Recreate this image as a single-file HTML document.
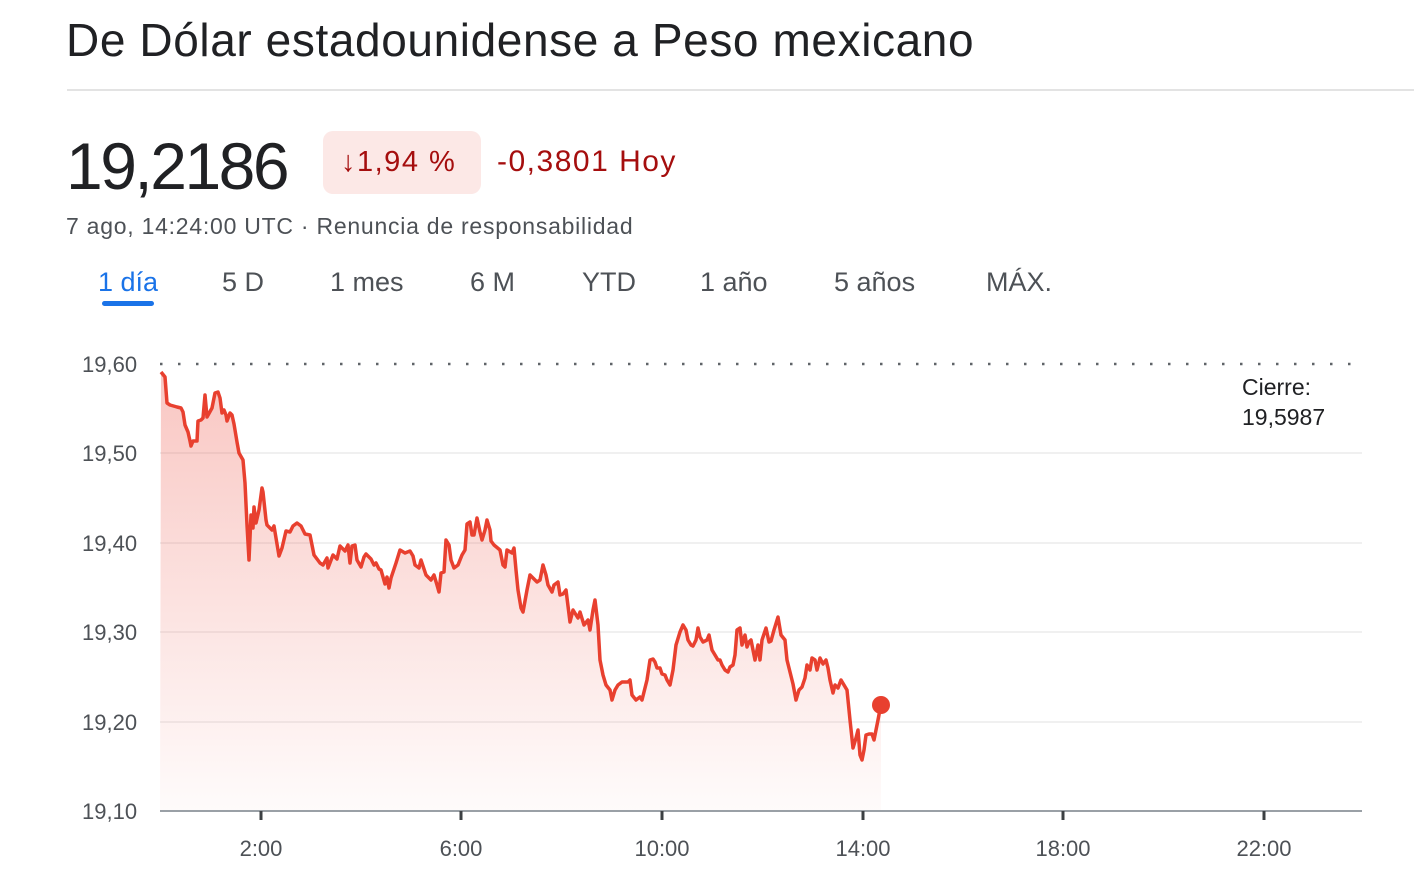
<!DOCTYPE html>
<html><head><meta charset="utf-8"><style>
body{margin:0;width:1414px;height:888px;background:#fff;font-family:"Liberation Sans",Arial,sans-serif;overflow:hidden;position:relative;color:#202124}
.a{position:absolute;white-space:nowrap}
</style></head><body>
<div class="a" style="left:66px;top:13px;font-size:46px;color:#202124;letter-spacing:0.6px">De Dólar estadounidense a Peso mexicano</div>
<div class="a" style="left:67px;top:89px;width:1347px;height:2px;background:#e3e3e3"></div>
<div class="a" style="left:66px;top:128px;font-size:66px;color:#202124;letter-spacing:-2.5px">19,2186</div>
<div class="a" style="left:323px;top:131px;width:158px;height:63px;background:#fce8e6;border-radius:10px"></div>
<div class="a" style="left:341px;top:146px;font-size:29px;color:#a50e0e;letter-spacing:1.5px">↓1,94 %</div>
<div class="a" style="left:497px;top:145px;font-size:30px;color:#a50e0e;letter-spacing:1.5px">-0,3801 Hoy</div>
<div class="a" style="left:66px;top:213px;font-size:23px;color:#4d5156;letter-spacing:0.75px">7 ago, 14:24:00 UTC · Renuncia de responsabilidad</div>
<div class="a" style="left:98px;top:267px;font-size:27px;color:#1a73e8">1 día</div>
<div class="a" style="left:102px;top:301px;width:52px;height:5px;background:#1a73e8;border-radius:3px"></div>
<div class="a" style="left:222px;top:267px;font-size:27px;color:#4d5156">5 D</div>
<div class="a" style="left:330px;top:267px;font-size:27px;color:#4d5156">1 mes</div>
<div class="a" style="left:470px;top:267px;font-size:27px;color:#4d5156">6 M</div>
<div class="a" style="left:582px;top:267px;font-size:27px;color:#4d5156">YTD</div>
<div class="a" style="left:700px;top:267px;font-size:27px;color:#4d5156">1 año</div>
<div class="a" style="left:834px;top:267px;font-size:27px;color:#4d5156">5 años</div>
<div class="a" style="left:986px;top:267px;font-size:27px;color:#4d5156">MÁX.</div>
<svg class="a" style="left:0;top:0" width="1414" height="888">
<defs><linearGradient id="g" x1="0" y1="0" x2="0" y2="1"><stop offset="0" stop-color="#ea4335" stop-opacity="0.3"/><stop offset="1" stop-color="#ea4335" stop-opacity="0.02"/></linearGradient></defs>
<g stroke="#ececec" stroke-width="1.5">
<line x1="160" y1="453" x2="1362" y2="453"/><line x1="160" y1="543" x2="1362" y2="543"/><line x1="160" y1="632" x2="1362" y2="632"/><line x1="160" y1="722" x2="1362" y2="722"/>
</g>
<line x1="160" y1="364" x2="1355" y2="364" stroke="#5f6368" stroke-width="2.5" stroke-dasharray="2.5 15.5"/>
<g font-size="22" fill="#4d5156">
<text x="82" y="372">19,60</text><text x="82" y="461">19,50</text><text x="82" y="551">19,40</text><text x="82" y="640">19,30</text><text x="82" y="730">19,20</text><text x="82" y="819">19,10</text>
</g>
<path id="p" fill="url(#g)" stroke="none" d="M160,811 L161,372 165,377 167,403 170,405 177,407 181,408 183,412 185,425 188,432 190,441 191,446 193,441 197,441 198,421 201,420 203,418 205,395 207,417 212,408 215,393 218,392 220,398 222,413 224,410 226,415 227,421 230,413 232,415 234,424 237,442 239,453 243,460 245,483 247,525 249,560 251,515 253,528 254,507 256,523 259,510 262,488 263,492 266,520 267,525 272,530 274,526 279,556 282,548 286,531 290,532 293,526 297,523 301,526 305,534 310,535 314,555 317,559 320,563 323,565 327,558 328,568 333,555 337,559 340,546 345,551 348,545 350,563 352,546 355,545 357,560 361,567 364,557 366,554 371,559 374,565 376,563 379,569 381,570 385,584 387,577 389,588 391,578 396,563 400,550 405,553 410,551 413,556 415,565 419,568 421,560 426,575 431,580 434,575 437,585 439,592 441,573 444,572 446,540 449,545 451,560 454,568 458,565 462,555 465,550 467,524 470,522 472,535 474,535 477,518 480,532 482,540 485,530 487,520 490,530 491,541 494,545 500,550 503,565 505,567 507,550 512,553 514,548 516,570 518,590 521,608 523,612 527,590 530,575 537,582 540,580 543,565 546,575 548,585 552,592 554,585 558,582 560,595 563,594 566,590 570,622 573,610 578,618 580,612 584,625 588,620 590,630 593,610 595,600 598,625 600,660 603,675 606,685 610,690 612,700 615,690 618,685 622,682 626,682 628,682 630,680 632,695 636,700 640,697 642,700 647,680 650,660 653,659 655,662 657,668 660,668 662,674 665,675 667,680 670,685 673,670 676,645 680,632 683,625 686,630 688,640 691,645 693,646 696,640 698,628 700,637 703,642 707,640 709,635 712,650 715,655 718,660 720,660 722,665 725,670 728,672 730,667 733,665 735,655 737,630 740,628 742,645 745,635 747,647 749,642 751,640 753,650 755,660 758,645 760,660 762,640 766,628 769,642 771,641 774,630 778,617 781,635 785,640 787,660 790,672 793,684 796,700 799,690 802,687 805,678 807,665 810,670 812,658 815,660 817,670 820,658 823,664 826,660 828,668 830,680 833,693 835,685 838,688 841,680 844,685 847,690 850,720 853,748 856,738 858,730 860,755 862,760 864,750 866,735 869,734 872,734 874,740 876,730 878,720 881,704 L881,811 Z"/>
<polyline fill="none" stroke="#e8402f" stroke-width="3.5" stroke-linejoin="round" points="161,372 165,377 167,403 170,405 177,407 181,408 183,412 185,425 188,432 190,441 191,446 193,441 197,441 198,421 201,420 203,418 205,395 207,417 212,408 215,393 218,392 220,398 222,413 224,410 226,415 227,421 230,413 232,415 234,424 237,442 239,453 243,460 245,483 247,525 249,560 251,515 253,528 254,507 256,523 259,510 262,488 263,492 266,520 267,525 272,530 274,526 279,556 282,548 286,531 290,532 293,526 297,523 301,526 305,534 310,535 314,555 317,559 320,563 323,565 327,558 328,568 333,555 337,559 340,546 345,551 348,545 350,563 352,546 355,545 357,560 361,567 364,557 366,554 371,559 374,565 376,563 379,569 381,570 385,584 387,577 389,588 391,578 396,563 400,550 405,553 410,551 413,556 415,565 419,568 421,560 426,575 431,580 434,575 437,585 439,592 441,573 444,572 446,540 449,545 451,560 454,568 458,565 462,555 465,550 467,524 470,522 472,535 474,535 477,518 480,532 482,540 485,530 487,520 490,530 491,541 494,545 500,550 503,565 505,567 507,550 512,553 514,548 516,570 518,590 521,608 523,612 527,590 530,575 537,582 540,580 543,565 546,575 548,585 552,592 554,585 558,582 560,595 563,594 566,590 570,622 573,610 578,618 580,612 584,625 588,620 590,630 593,610 595,600 598,625 600,660 603,675 606,685 610,690 612,700 615,690 618,685 622,682 626,682 628,682 630,680 632,695 636,700 640,697 642,700 647,680 650,660 653,659 655,662 657,668 660,668 662,674 665,675 667,680 670,685 673,670 676,645 680,632 683,625 686,630 688,640 691,645 693,646 696,640 698,628 700,637 703,642 707,640 709,635 712,650 715,655 718,660 720,660 722,665 725,670 728,672 730,667 733,665 735,655 737,630 740,628 742,645 745,635 747,647 749,642 751,640 753,650 755,660 758,645 760,660 762,640 766,628 769,642 771,641 774,630 778,617 781,635 785,640 787,660 790,672 793,684 796,700 799,690 802,687 805,678 807,665 810,670 812,658 815,660 817,670 820,658 823,664 826,660 828,668 830,680 833,693 835,685 838,688 841,680 844,685 847,690 850,720 853,748 856,738 858,730 860,755 862,760 864,750 866,735 869,734 872,734 874,740 876,730 878,720 881,704"/>
<circle cx="881" cy="705" r="9" fill="#e8402f"/>
<line x1="160" y1="811" x2="1362" y2="811" stroke="#9aa0a6" stroke-width="2"/>
<g stroke="#3c4043" stroke-width="3">
<line x1="261" y1="811" x2="261" y2="820"/><line x1="461" y1="811" x2="461" y2="820"/><line x1="662" y1="811" x2="662" y2="820"/><line x1="863" y1="811" x2="863" y2="820"/><line x1="1063" y1="811" x2="1063" y2="820"/><line x1="1264" y1="811" x2="1264" y2="820"/>
</g>
<g font-size="22" fill="#4d5156" text-anchor="middle">
<text x="261" y="856">2:00</text><text x="461" y="856">6:00</text><text x="662" y="856">10:00</text><text x="863" y="856">14:00</text><text x="1063" y="856">18:00</text><text x="1264" y="856">22:00</text>
</g>
<g font-size="23" fill="#202124"><text x="1242" y="395">Cierre:</text><text x="1242" y="425">19,5987</text></g>
</svg>
</body></html>
